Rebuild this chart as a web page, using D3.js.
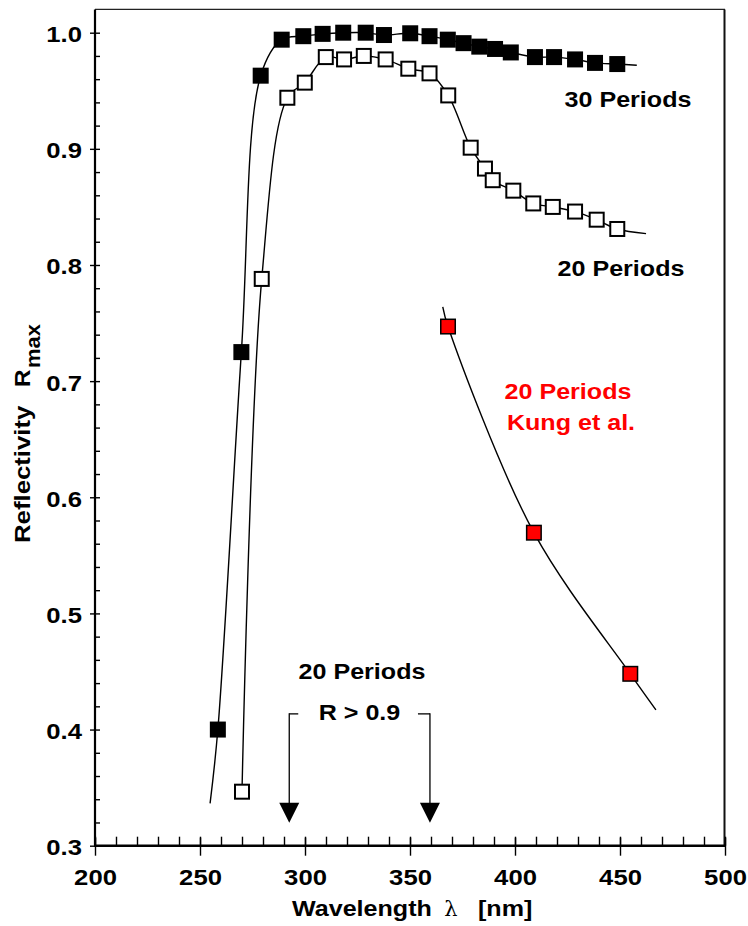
<!DOCTYPE html>
<html>
<head>
<meta charset="utf-8">
<script src="https://cdn.jsdelivr.net/npm/d3@7"></script>
<style>
  html, body { margin: 0; padding: 0; background: #fff; }
  svg { display: block; }
  text { font-family: "Liberation Sans", Arial, Helvetica, sans-serif; font-weight: bold; }
</style>
</head>
<body>
<svg id="chart" width="748" height="926"></svg>
<script>
// ---------------- DATA ----------------
// 30 periods (filled black squares)
const wl30 = [258.5, 269.7, 278.9, 288.9, 299.2, 308.4, 318.2, 328.9, 337.6, 350.1, 359.3, 368.0, 375.5, 383.0, 390.5, 398.0, 409.5, 418.6, 428.6, 438.1, 448.7];
const r30  = [0.400, 0.725, 0.963, 0.994, 0.997, 0.999, 1.000, 1.000, 0.998, 0.9995, 0.997, 0.994, 0.991, 0.988, 0.986, 0.983, 0.979, 0.979, 0.977, 0.974, 0.973];
// 20 periods (open squares)
const wl20 = [270.0, 279.4, 291.6, 299.9, 309.9, 318.6, 328.0, 338.4, 349.2, 359.3, 368.2, 378.9, 385.7, 389.4, 399.2, 408.7, 418.0, 428.6, 438.9, 448.7];
const r20  = [0.3465, 0.788, 0.944, 0.957, 0.979, 0.977, 0.980, 0.977, 0.969, 0.965, 0.946, 0.901, 0.883, 0.873, 0.864, 0.853, 0.850, 0.846, 0.839, 0.831];
// 20 periods, Kung et al. (red squares)
const wlKung = [368.1, 409.0, 454.9];
const rKung  = [0.747, 0.5695, 0.448];
// ends of the drawn curves beyond the markers [wavelength, R]
const curve30Start = [254.8, 0.3365];
const curve30End   = [458.0, 0.972];
const curve20End   = [462.4, 0.827];
const curveKungStart = [365.6, 0.764];
const curveKungEnd   = [467.1, 0.417];
// annotation: R > 0.9 range for 20 periods
const rangeArrowsWl = [292.5, 359.5];
const bracketR = 0.4135;
const arrowTipR = 0.3198;
// axes
const xMajorTicks = [200, 250, 300, 350, 400, 450, 500];
const xMinorTicks = d3.range(200, 501, 10);
const yMajorTicks = [0.3, 0.4, 0.5, 0.6, 0.7, 0.8, 0.9, 1.0];
const yMinorTicks = d3.range(30, 101, 2).map(v => v / 100);
const yTopValue = 1.02;

// ---------------- CHART ----------------
const svg = d3.select('#chart');
const x = d3.scaleLinear().domain([200, 500]).range([95, 725]);
const y = d3.scaleLinear().domain([0.3, 1.0]).range([845.7, 32.7]);
const K = 1.14; // horizontal stretch of the lettering

function stretch(sel, k) {
  sel.each(function () {
    const L = this.getComputedTextLength();
    d3.select(this).attr('textLength', L * k).attr('lengthAdjust', 'spacingAndGlyphs');
  });
}

// frame
const x0 = x(200), x1 = x(500), yB = y(0.3), yT = y(yTopValue);
svg.append('line').attr('x1', x0).attr('x2', x1).attr('y1', yT).attr('y2', yT).attr('stroke', '#222').attr('stroke-width', 1.3);
svg.append('line').attr('x1', x1 - 0.5).attr('x2', x1 - 0.5).attr('y1', yT).attr('y2', yB).attr('stroke', '#111').attr('stroke-width', 2);

// x axis: major ticks crossing, minor ticks inside
const gxMinor = svg.append('g').attr('transform', `translate(0,${yB})`)
  .call(d3.axisTop(x).tickValues(xMinorTicks).tickSize(9).tickFormat(''));
gxMinor.select('.domain').remove();
const gx = svg.append('g').attr('transform', `translate(0,${yB})`)
  .call(d3.axisBottom(x).tickValues(xMajorTicks).tickSize(10).tickPadding(13).tickFormat(d3.format('d')));
gx.select('.domain').remove();
gx.selectAll('.tick line').attr('y1', -8);
gx.selectAll('text').attr('font-size', 22.5).attr('fill', '#000');

// y axis
const gyMinor = svg.append('g').attr('transform', `translate(${x0},0)`)
  .call(d3.axisRight(y).tickValues(yMinorTicks).tickSize(5).tickFormat(''));
gyMinor.select('.domain').remove();
const gy = svg.append('g').attr('transform', `translate(${x0},0)`)
  .call(d3.axisLeft(y).tickValues(yMajorTicks).tickSize(5).tickPadding(8).tickFormat(d3.format('.1f')));
gy.select('.domain').remove();
gy.selectAll('text').attr('font-size', 22.5).attr('fill', '#000').attr('dy', '0.4em');
svg.selectAll('.tick line').attr('stroke', '#000').attr('stroke-width', 1.4);
svg.selectAll('g').attr('font-family', null).attr('font-size', null);

// axis lines
svg.append('line').attr('x1', x0).attr('x2', x0).attr('y1', yT).attr('y2', yB).attr('stroke', '#000').attr('stroke-width', 2.2);
svg.append('line').attr('x1', x0 - 1).attr('x2', x1).attr('y1', yB).attr('y2', yB).attr('stroke', '#000').attr('stroke-width', 2.6);

// curves
const line = d3.line().x(d => x(d[0])).y(d => y(d[1])).curve(d3.curveCatmullRom.alpha(0.5));
const pts30 = [curve30Start].concat(wl30.map((w, i) => [w, r30[i]]), [curve30End]);
const pts20 = wl20.map((w, i) => [w, r20[i]]).concat([curve20End]);
const ptsK = [curveKungStart].concat(wlKung.map((w, i) => [w, rKung[i]]), [curveKungEnd]);
[pts30, pts20, ptsK].forEach(p => svg.append('path').attr('d', line(p)).attr('fill', 'none').attr('stroke', '#000').attr('stroke-width', 1.4));

// markers
const S = 16;
svg.append('g').selectAll('rect').data(wl20.map((w, i) => [w, r20[i]])).join('rect')
  .attr('x', d => x(d[0]) - (S - 2) / 2).attr('y', d => y(d[1]) - (S - 2) / 2)
  .attr('width', S - 2).attr('height', S - 2)
  .attr('fill', '#fff').attr('stroke', '#000').attr('stroke-width', 2);
svg.append('g').selectAll('rect').data(wl30.map((w, i) => [w, r30[i]])).join('rect')
  .attr('x', d => x(d[0]) - S / 2).attr('y', d => y(d[1]) - S / 2)
  .attr('width', S).attr('height', S).attr('fill', '#000');
svg.append('g').selectAll('rect').data(wlKung.map((w, i) => [w, rKung[i]])).join('rect')
  .attr('x', d => x(d[0]) - (S - 1.5) / 2).attr('y', d => y(d[1]) - (S - 1.5) / 2)
  .attr('width', S - 1.5).attr('height', S - 1.5)
  .attr('fill', '#ff0000').attr('stroke', '#000').attr('stroke-width', 1.5);

// R > 0.9 arrows
const yBr = y(bracketR), yTip = y(arrowTipR);
const bracketArms = [[x(rangeArrowsWl[0]), x(rangeArrowsWl[0]) + 9], [x(rangeArrowsWl[1]) - 12, x(rangeArrowsWl[1])]];
bracketArms.forEach(a => svg.append('line').attr('x1', a[0]).attr('x2', a[1]).attr('y1', yBr).attr('y2', yBr).attr('stroke', '#000').attr('stroke-width', 1.3));
rangeArrowsWl.forEach(w => {
  const xa = x(w);
  svg.append('line').attr('x1', xa).attr('x2', xa).attr('y1', yBr - 0.6).attr('y2', yTip - 18).attr('stroke', '#000').attr('stroke-width', 1.3);
  svg.append('path').attr('d', `M${xa - 10},${yTip - 20}L${xa + 10},${yTip - 20}L${xa},${yTip}Z`).attr('fill', '#000');
});

// labels
function label(txt, cx, base, opts = {}) {
  const t = svg.append('text').attr('x', cx).attr('y', base)
    .attr('text-anchor', opts.anchor || 'middle').attr('font-size', opts.size || 22)
    .attr('fill', opts.color || '#000').text(txt);
  stretch(t, opts.k || K);
  return t;
}
label('30 Periods', 628, 107);
label('20 Periods', 621, 276);
label('20 Periods', 568, 399, { color: '#ff0000' });
label('Kung et al.', 571, 430, { color: '#ff0000' });
label('20 Periods', 362, 679);
label('R > 0.9', 359.5, 719.5);

stretch(gx.selectAll('text'), K);
stretch(gy.selectAll('text'), K);

// x axis title
label('Wavelength', 292, 916, { anchor: 'start' });
svg.append('text').attr('x', 451).attr('y', 916).attr('text-anchor', 'middle')
  .attr('font-size', 21)
  .style('font-family', '"DejaVu Serif", "Liberation Serif", serif').style('font-weight', 'normal')
  .text('λ');
label('[nm]', 478, 916, { anchor: 'start' });

// y axis title
const gt = svg.append('g').attr('transform', 'translate(29.5,543) rotate(-90)');
const t1 = gt.append('text').attr('x', 0).attr('y', 0).attr('font-size', 22).text('Reflectivity');
stretch(t1, 1.17);
const t2 = gt.append('text').attr('x', 156).attr('y', 0).attr('font-size', 22).text('R');
stretch(t2, 1.1);
const t3 = gt.append('text').attr('x', 175).attr('y', 10).attr('font-size', 20).text('max');
stretch(t3, 1.1);
</script>
</body>
</html>
